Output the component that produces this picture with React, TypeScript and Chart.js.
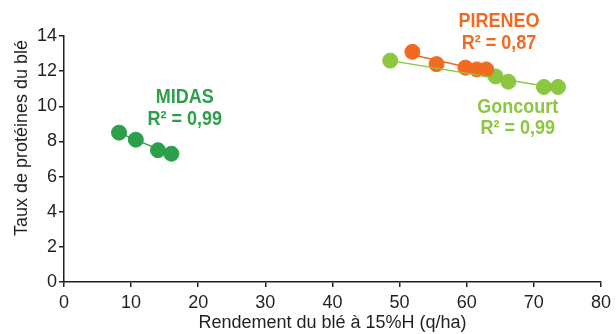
import React, { useEffect, useRef } from "react";
import { Chart, registerables } from "chart.js";

Chart.register(...registerables);

const midasX = [8.2, 10.7, 14.0, 16.0];
const midasY = [8.5, 8.1, 7.5, 7.3];
const pireneoX = [51.9, 55.5, 59.8, 61.5, 62.9];
const pireneoY = [13.1, 12.4, 12.2, 12.1, 12.1];
const goncourtX = [48.6, 64.3, 66.2, 71.5, 73.6];
const goncourtY = [12.6, 11.7, 11.4, 11.1, 11.1];

const xTicks = [0, 10, 20, 30, 40, 50, 60, 70, 80];
const yTicks = [0, 2, 4, 6, 8, 10, 12, 14];

const MIDAS_COLOR = "#2c9f4b";
const PIRENEO_COLOR = "#f26a21";
const GONCOURT_COLOR = "#8dc63f";
const AXIS_COLOR = "#231f20";
const FONT = "'Liberation Sans', Arial, sans-serif";

function pts(xs: number[], ys: number[]) {
  return xs.map((x, i) => ({ x, y: ys[i] }));
}

function trend(xs: number[], ys: number[], x0: number, x1: number) {
  const n = xs.length;
  const mx = xs.reduce((a, b) => a + b, 0) / n;
  const my = ys.reduce((a, b) => a + b, 0) / n;
  let num = 0, den = 0;
  xs.forEach((x, i) => { num += (x - mx) * (ys[i] - my); den += (x - mx) * (x - mx); });
  const m = num / den;
  const b = my - m * mx;
  return [{ x: x0, y: m * x0 + b }, { x: x1, y: m * x1 + b }];
}

const labels = [
  { lines: ["MIDAS", "R² = 0,99"], x: 18.0, y: 10.5, color: MIDAS_COLOR },
  { lines: ["PIRENEO", "R² = 0,87"], x: 64.8, y: 14.8, color: PIRENEO_COLOR },
  { lines: ["Goncourt", "R² = 0,99"], x: 67.6, y: 9.95, color: GONCOURT_COLOR },
];

const annotationPlugin = {
  id: "annot",
  afterDraw(chart: any) {
    const ctx = chart.ctx;
    const xs = chart.scales.x;
    const ys = chart.scales.y;
    ctx.save();
    ctx.font = `bold 20px ${FONT}`;
    ctx.textAlign = "center";
    ctx.textBaseline = "middle";
    labels.forEach((l) => {
      const px = xs.getPixelForValue(l.x);
      const py = ys.getPixelForValue(l.y);
      ctx.fillStyle = l.color;
      l.lines.forEach((t, i) => {
        ctx.save();
        ctx.translate(px, py + i * 21.5);
        ctx.scale(0.9, 1);
        ctx.fillText(t, 0, 0);
        ctx.restore();
      });
    });
    ctx.fillStyle = AXIS_COLOR;
    ctx.font = `18px ${FONT}`;
    ctx.translate(22, 138);
    ctx.rotate(-Math.PI / 2);
    ctx.fillText("Taux de protéines du blé", 0, 0);
    ctx.restore();
  },
};

export default function App() {
  const ref = useRef<HTMLCanvasElement>(null);
  useEffect(() => {
    if (!ref.current) return;
    const scatter = (data: any, color: string) => ({
      type: "scatter" as const,
      data,
      backgroundColor: color,
      borderColor: color,
      pointRadius: 7.5,
      pointHoverRadius: 7.5,
      showLine: false,
    });
    const line = (data: any, color: string) => ({
      type: "line" as const,
      data,
      borderColor: color,
      borderWidth: 1.5,
      pointRadius: 0,
      fill: false,
    });
    const chart = new Chart(ref.current, {
      type: "scatter",
      data: {
        datasets: [
          line(trend(midasX, midasY, midasX[0], midasX[midasX.length - 1]), MIDAS_COLOR),
          line(trend(pireneoX, pireneoY, pireneoX[0], pireneoX[pireneoX.length - 1]), PIRENEO_COLOR),
          line(trend(goncourtX, goncourtY, goncourtX[0], goncourtX[goncourtX.length - 1]), GONCOURT_COLOR),
          scatter(pts(midasX, midasY), MIDAS_COLOR),
          scatter(pts(pireneoX, pireneoY), PIRENEO_COLOR),
          scatter(pts(goncourtX, goncourtY), GONCOURT_COLOR),
        ],
      } as any,
      options: {
        animation: false,
        responsive: false,
        maintainAspectRatio: false,
        layout: { padding: { top: 36, right: 14, left: 0, bottom: 0 } },
        plugins: { legend: { display: false }, tooltip: { enabled: false } },
        scales: {
          x: {
            type: "linear",
            min: 0,
            max: 80,
            afterBuildTicks: (s: any) => { s.ticks = xTicks.map((v) => ({ value: v })); },
            afterFit: (s: any) => { s.height = 52; },
            ticks: { color: AXIS_COLOR, font: { family: FONT, size: 18 }, padding: 5, maxRotation: 0 },
            grid: { drawOnChartArea: false, drawTicks: true, tickLength: 5, color: AXIS_COLOR, lineWidth: 1.5 },
            border: { color: AXIS_COLOR, width: 1.5 },
            title: { display: true, text: "Rendement du blé à 15%H (q/ha)", color: AXIS_COLOR, font: { family: FONT, size: 18 }, padding: 0 },
          },
          y: {
            type: "linear",
            min: 0,
            max: 14,
            afterBuildTicks: (s: any) => { s.ticks = yTicks.map((v) => ({ value: v })); },
            afterFit: (s: any) => { s.width = 64; },
            ticks: { color: AXIS_COLOR, font: { family: FONT, size: 18 }, padding: 2 },
            grid: { drawOnChartArea: false, drawTicks: true, tickLength: 5, color: AXIS_COLOR, lineWidth: 1.5 },
            border: { color: AXIS_COLOR, width: 1.5 },
          },
        },
      },
      plugins: [annotationPlugin],
    } as any);
    return () => chart.destroy();
  }, []);
  return (
    <div style={{ position: "fixed", left: 0, top: 0, width: 616, height: 334, background: "#fff" }}>
      <canvas ref={ref} width={616} height={334} style={{ width: 616, height: 334 }} />
    </div>
  );
}
